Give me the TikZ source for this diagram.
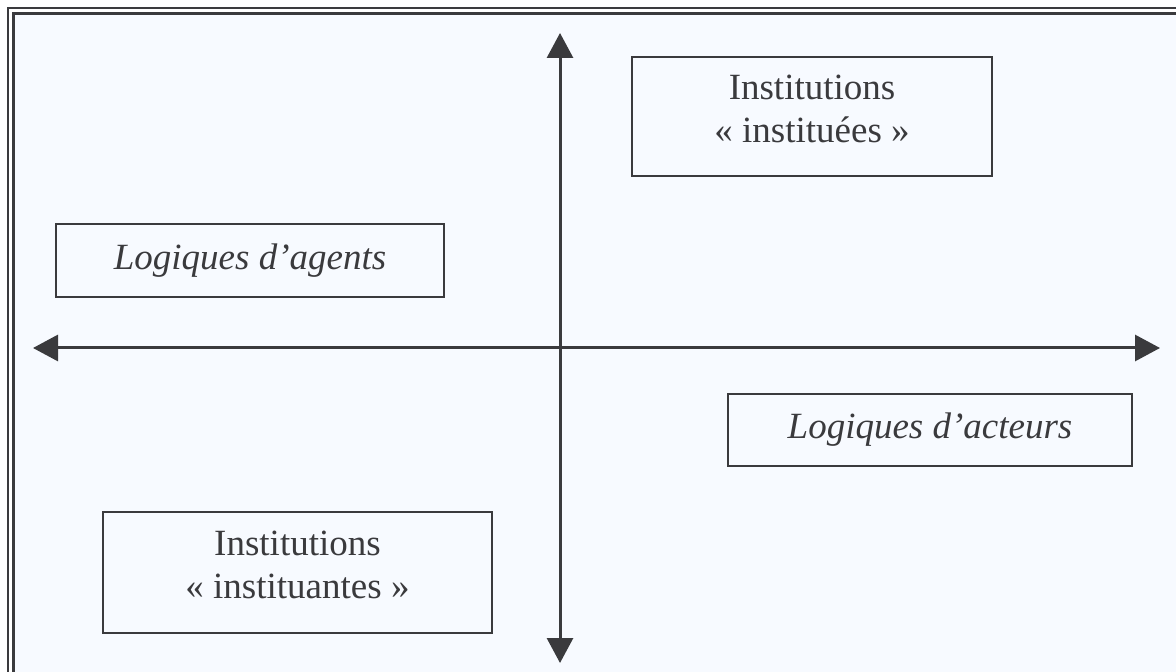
\documentclass[tikz,border=0pt]{standalone}
\usepackage{fontspec}
\setmainfont{Liberation Serif}
\usetikzlibrary{arrows.meta}

\definecolor{inkgray}{HTML}{3A3A3D}
\definecolor{paleblue}{HTML}{F7FAFF}

\begin{document}
\begin{tikzpicture}[x=0.5pt, y=-0.5pt,
    textbox/.style={draw=inkgray, line width=1pt, fill=paleblue, text=inkgray,
      align=center, inner sep=0pt, font=\fontsize{18.5}{21.5}\selectfont},
    axis/.style={draw=inkgray, line width=1.5pt,
      {Triangle[length=12.5pt,width=13pt]}-{Triangle[length=12.5pt,width=13pt]}}]

  % Page size
  \useasboundingbox (0,0) rectangle (1176,672);
  \clip (0,0) rectangle (1176,672);

  % Double frame
  \fill [paleblue] (13.5,13.5) rectangle (1200,700);
  \draw [inkgray, line width=1.1pt] (8,8) rectangle (1200,700);
  \draw [inkgray, line width=1.1pt] (13.5,13.5) rectangle (1200,700);

  % Axis ends
  \coordinate (top) at (560,33);
  \coordinate (bottom) at (560,663);
  \coordinate (left) at (33,348);
  \coordinate (right) at (1160,348);

  % Axes
  \draw [axis] (bottom) -- (top);
  \draw [axis] (left) -- (right);

  % Boxes
  \node (instituees) [textbox, minimum width=180pt, minimum height=59.5pt, text depth=8pt]
    at (812,116.5) {Institutions\\« instituées »};
  \node (agents) [textbox, minimum width=194pt, minimum height=36.5pt]
    at (250,260.5) {\itshape Logiques d’agents};
  \node (acteurs) [textbox, minimum width=202pt, minimum height=36pt]
    at (930,430) {\itshape Logiques d’acteurs};
  \node (instituantes) [textbox, minimum width=194.5pt, minimum height=60.5pt, text depth=8pt]
    at (297.5,572.5) {Institutions\\« instituantes »};
\end{tikzpicture}
\end{document}
